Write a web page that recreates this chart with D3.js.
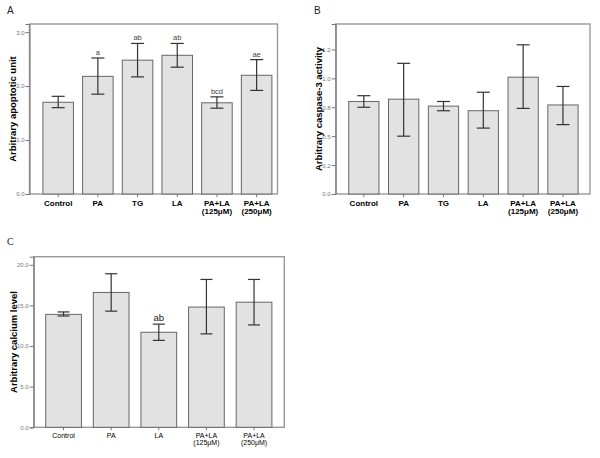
<!DOCTYPE html>
<html>
<head>
<meta charset="utf-8">
<script src="https://cdn.jsdelivr.net/npm/d3@7"></script>
<style>
  body { margin: 0; background: #fff; }
  svg { display: block; }
</style>
</head>
<body>
<div id="chart"></div>
<script>
// Panel A - apoptosis
const catsA = [["Control"], ["PA"], ["TG"], ["LA"], ["PA+LA", "(125μM)"], ["PA+LA", "(250μM)"]];
const meanA = [1.70, 2.18, 2.48, 2.57, 1.69, 2.20];
const lowA = [1.60, 1.85, 2.17, 2.35, 1.59, 1.92];
const highA = [1.81, 2.52, 2.79, 2.79, 1.80, 2.49];
const sigA = ["", "a", "ab", "ab", "bcd", "ae"];
const ticksA = [0, 1, 2, 3];
const tickLabelsA = ["0.0", "1.0", "2.0", "3.0"];

// Panel B - caspase-3
const catsB = [["Control"], ["PA"], ["TG"], ["LA"], ["PA+LA", "(125μM)"], ["PA+LA", "(250μM)"]];
const meanB = [0.80, 0.82, 0.76, 0.72, 1.01, 0.77];
const lowB = [0.75, 0.50, 0.72, 0.57, 0.74, 0.60];
const highB = [0.85, 1.13, 0.80, 0.88, 1.29, 0.93];
const sigB = ["", "", "", "", "", ""];
const ticksB = [0, 0.25, 0.5, 0.75, 1.0, 1.25];
const tickLabelsB = ["0.0", "0.2", "0.5", "0.8", "1.0", "1.2"];

// Panel C - calcium
const catsC = [["Control"], ["PA"], ["LA"], ["PA+LA", "(125μM)"], ["PA+LA", "(250μM)"]];
const meanC = [13.9, 16.6, 11.7, 14.8, 15.4];
const lowC = [13.7, 14.3, 10.7, 11.5, 12.6];
const highC = [14.2, 18.9, 12.7, 18.2, 18.2];
const sigC = ["", "", "ab", "", ""];
const ticksC = [0, 5, 10, 15, 20];
const tickLabelsC = ["0.0", "5.0", "10.0", "15.0", "20.0"];

const width = 600, height = 458;

const svg = d3.select("#chart")
    .append("svg")
    .attr("width", width)
    .attr("height", height)
    .attr("font-family", "'Liberation Sans', Arial, sans-serif");

/**
 * Draw one bar panel with error bars
 */
const drawPanel = (p) => {
    const g = svg.append("g");

    const data = p.cats.map((c, i) => ({
        key: i, lines: c, mean: p.mean[i], low: p.low[i], high: p.high[i], sig: p.sig[i]
    }));

    const x = d3.scaleBand()
        .domain(data.map(d => d.key))
        .range([p.bandL, p.bandR])
        .paddingInner(p.padInner);

    const y = d3.scaleLinear()
        .domain([0, p.yMax])
        .range([p.bottom, p.top]);

    // frame
    g.append("rect")
        .attr("x", p.left)
        .attr("y", p.top)
        .attr("width", p.right - p.left)
        .attr("height", p.bottom - p.top)
        .attr("fill", "none")
        .attr("stroke", "#9a9a9a")
        .attr("stroke-width", 1.4);

    // y axis
    const yAxis = d3.axisLeft(y)
        .tickValues(p.ticks)
        .tickFormat((d, i) => p.tickLabels[i])
        .tickSize(4)
        .tickPadding(1);

    g.append("g")
        .attr("transform", `translate(${p.left},0)`)
        .call(yAxis)
        .call(a => a.select(".domain").attr("stroke", "#777"))
        .call(a => a.selectAll(".tick line").attr("stroke", "#777"))
        .call(a => a.selectAll(".tick text")
            .attr("fill", "#777")
            .attr("font-size", 6));

    // x axis ticks
    const xAxis = d3.axisBottom(x)
        .tickSize(3)
        .tickFormat("");

    g.append("g")
        .attr("transform", `translate(0,${p.bottom})`)
        .call(xAxis)
        .call(a => a.select(".domain").remove())
        .call(a => a.selectAll(".tick line").attr("stroke", "#777"));

    // bars
    g.append("g")
        .selectAll("rect")
        .data(data)
        .join("rect")
        .attr("x", d => x(d.key))
        .attr("y", d => y(d.mean))
        .attr("width", x.bandwidth())
        .attr("height", d => y(0) - y(d.mean))
        .attr("fill", "#e2e2e2")
        .attr("stroke", "#666")
        .attr("stroke-width", 1);

    // error bars
    const err = g.append("g")
        .attr("stroke", "#333")
        .attr("stroke-width", 1.2)
        .selectAll("g")
        .data(data)
        .join("g")
        .attr("transform", d => `translate(${x(d.key) + x.bandwidth() / 2},0)`);

    err.append("line")
        .attr("y1", d => y(d.low))
        .attr("y2", d => y(d.high));

    err.append("line")
        .attr("x1", -p.cap).attr("x2", p.cap)
        .attr("y1", d => y(d.high)).attr("y2", d => y(d.high));

    err.append("line")
        .attr("x1", -p.cap).attr("x2", p.cap)
        .attr("y1", d => y(d.low)).attr("y2", d => y(d.low));

    // significance letters
    g.append("g")
        .selectAll("text")
        .data(data.filter(d => d.sig))
        .join("text")
        .attr("x", d => x(d.key) + x.bandwidth() / 2)
        .attr("y", d => y(d.high) - 3)
        .attr("text-anchor", "middle")
        .attr("font-size", p.sigSize)
        .attr("fill", p.sigColor)
        .text(d => d.sig);

    // category labels
    g.append("g")
        .attr("font-size", p.catSize)
        .attr("font-weight", p.catWeight)
        .attr("text-anchor", "middle")
        .selectAll("text")
        .data(data)
        .join("text")
        .attr("transform", d => `translate(${x(d.key) + x.bandwidth() / 2},${p.bottom + p.catOffset})`)
        .selectAll("tspan")
        .data(d => d.lines)
        .join("tspan")
        .attr("x", 0)
        .attr("dy", (d, i) => i === 0 ? 0 : "1.05em")
        .text(d => d);

    // y axis title
    g.append("text")
        .attr("transform", `translate(${p.titleX},${(p.top + p.bottom) / 2 + p.titleShift}) rotate(-90)`)
        .attr("text-anchor", "middle")
        .attr("font-size", 9.5)
        .attr("font-weight", "bold")
        .text(p.title);

    // panel letter
    svg.append("text")
        .attr("x", p.letterX)
        .attr("y", p.letterY)
        .attr("font-size", 10)
        .attr("font-family", p.letterFont)
        .attr("fill", "#222")
        .text(p.letter);
};

drawPanel({
    cats: catsA, mean: meanA, low: lowA, high: highA, sig: sigA,
    ticks: ticksA, tickLabels: tickLabelsA, yMax: 3.15,
    left: 29.5, right: 277.5, top: 24, bottom: 194,
    bandL: 42.9, bandR: 271.9, padInner: 0.23, cap: 6.5,
    sigSize: 7.5, sigColor: "#444",
    catSize: 8, catWeight: "bold", catOffset: 12,
    title: "Arbitrary apoptotic unit", titleX: 16, titleShift: 0,
    letter: "A", letterX: 7, letterY: 14, letterFont: "'Liberation Sans', Arial, sans-serif"
});

drawPanel({
    cats: catsB, mean: meanB, low: lowB, high: highB, sig: sigB,
    ticks: ticksB, tickLabels: tickLabelsB, yMax: 1.47,
    left: 335.7, right: 590, top: 24, bottom: 194,
    bandL: 348.7, bandR: 578.1, padInner: 0.24, cap: 6.5,
    sigSize: 7.5, sigColor: "#444",
    catSize: 8, catWeight: "bold", catOffset: 12,
    title: "Arbitrary caspase-3 activity", titleX: 322, titleShift: 0,
    letter: "B", letterX: 314, letterY: 14, letterFont: "'Liberation Sans', Arial, sans-serif"
});

drawPanel({
    cats: catsC, mean: meanC, low: lowC, high: highC, sig: sigC,
    ticks: ticksC, tickLabels: tickLabelsC, yMax: 21.0,
    left: 33.7, right: 284.3, top: 256.7, bottom: 427.3,
    bandL: 45.7, bandR: 271.9, padInner: 0.25, cap: 6,
    sigSize: 9.5, sigColor: "#222",
    catSize: 7, catWeight: "normal", catOffset: 10.5,
    title: "Arbitrary calcium level", titleX: 17, titleShift: 0,
    letter: "C", letterX: 7, letterY: 245, letterFont: "'Liberation Serif', 'Times New Roman', serif"
});
</script>
</body>
</html>
